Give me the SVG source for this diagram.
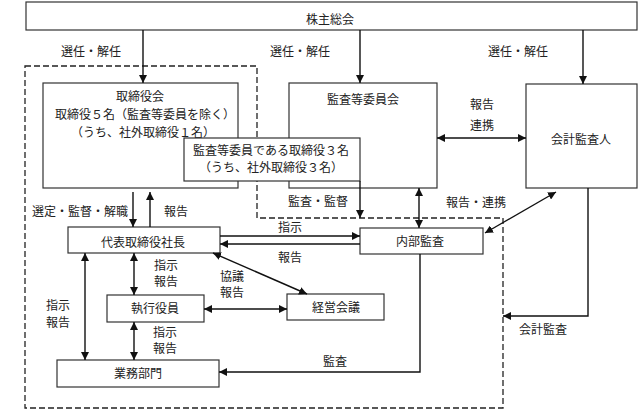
<svg xmlns="http://www.w3.org/2000/svg" width="639" height="413" viewBox="0 0 639 413">
<style>
text{font-family:"Noto Sans CJK JP","Noto Sans CJK SC",sans-serif;font-size:12px;fill:#222;text-anchor:middle}
.box{fill:#fff;stroke:#333;stroke-width:1.2}
.c{fill:none;stroke:#111;stroke-width:1.4}
.dash{fill:none;stroke:#222;stroke-width:1.3;stroke-dasharray:6,3}
</style>
<defs>
<marker id="ah" viewBox="0 0 10 10" refX="10" refY="5" markerWidth="8" markerHeight="8" markerUnits="userSpaceOnUse" orient="auto-start-reverse">
<path d="M0,0 L10,5 L0,10 z" fill="#111"/>
</marker>
</defs>
<rect width="639" height="413" fill="#fff"/>
<g id="boundary">
<path class="dash" d="M25,66 H257 V218 H503 V408 H25 Z"/>
</g>
<g id="shareholders"><rect class="box" x="26" y="2" width="611" height="28"/><text x="330" y="24">株主総会</text></g>
<g id="board"><rect class="box" x="43" y="83" width="195" height="105"/>
<text x="140" y="101">取締役会</text><text x="145" y="119">取締役５名（監査等委員を除く）</text><text x="143" y="137">（うち、社外取締役１名）</text></g>
<g id="audit-committee"><rect class="box" x="289" y="83" width="148" height="105"/><text x="363" y="104">監査等委員会</text></g>
<g id="audit-directors"><rect class="box" x="184" y="138" width="176" height="43"/><text x="271" y="155">監査等委員である取締役３名</text><text x="271" y="172">（うち、社外取締役３名）</text></g>
<g id="accounting-auditor"><rect class="box" x="526" y="84" width="111" height="104"/><text x="581" y="144">会計監査人</text></g>
<g id="president"><rect class="box" x="68" y="227" width="152" height="26"/><text x="143" y="247">代表取締役社長</text></g>
<g id="internal-audit"><rect class="box" x="360" y="228" width="123" height="26"/><text x="420" y="246">内部監査</text></g>
<g id="executive-officers"><rect class="box" x="107" y="295" width="97" height="27"/><text x="155" y="313">執行役員</text></g>
<g id="management-meeting"><rect class="box" x="287" y="294" width="97" height="26"/><text x="336" y="312">経営会議</text></g>
<g id="business-dept"><rect class="box" x="57" y="360" width="162" height="27"/><text x="138" y="378">業務部門</text></g>
<g id="connectors">
<path class="c" d="M143,30 V83" marker-end="url(#ah)"/>
<path class="c" d="M360,30 V83" marker-end="url(#ah)"/>
<path class="c" d="M583,30 V84" marker-end="url(#ah)"/>
<path class="c" d="M437,138 H526" marker-start="url(#ah)" marker-end="url(#ah)"/>
<path class="c" d="M133,192 V227" marker-end="url(#ah)"/>
<path class="c" d="M150,227 V192" marker-end="url(#ah)"/>
<path class="c" d="M360,181 V218" marker-end="url(#ah)"/>
<path class="c" d="M419,188 V228" marker-start="url(#ah)" marker-end="url(#ah)"/>
<path class="c" d="M220,236 H360" marker-end="url(#ah)"/>
<path class="c" d="M360,244 H220" marker-end="url(#ah)"/>
<path class="c" d="M556,192 L485,233" marker-start="url(#ah)" marker-end="url(#ah)"/>
<path class="c" d="M213,253 L307,294" marker-start="url(#ah)" marker-end="url(#ah)"/>
<path class="c" d="M134,253 V295" marker-start="url(#ah)" marker-end="url(#ah)"/>
<path class="c" d="M204,309 H287" marker-start="url(#ah)" marker-end="url(#ah)"/>
<path class="c" d="M85,253 V360" marker-start="url(#ah)" marker-end="url(#ah)"/>
<path class="c" d="M134,322 V360" marker-start="url(#ah)" marker-end="url(#ah)"/>
<path class="c" d="M420,254 V372 H219" marker-end="url(#ah)"/>
<path class="c" d="M588,188 V316 H503" marker-end="url(#ah)"/>
<text x="91" y="56">選任・解任</text>
<text x="300" y="56">選任・解任</text>
<text x="518" y="56">選任・解任</text>
<text x="482" y="109">報告</text>
<text x="482" y="130">連携</text>
<text x="80" y="216">選定・監督・解職</text>
<text x="176" y="216">報告</text>
<text x="318" y="206">監査・監督</text>
<text x="476" y="207">報告・連携</text>
<text x="290" y="232">指示</text>
<text x="290" y="262">報告</text>
<text x="166" y="270">指示</text>
<text x="166" y="286">報告</text>
<text x="232" y="281">協議</text>
<text x="232" y="297">報告</text>
<text x="58" y="310">指示</text>
<text x="58" y="327">報告</text>
<text x="165" y="337">指示</text>
<text x="165" y="353">報告</text>
<text x="335" y="366">監査</text>
<text x="543" y="334">会計監査</text>
</g>
</svg>
